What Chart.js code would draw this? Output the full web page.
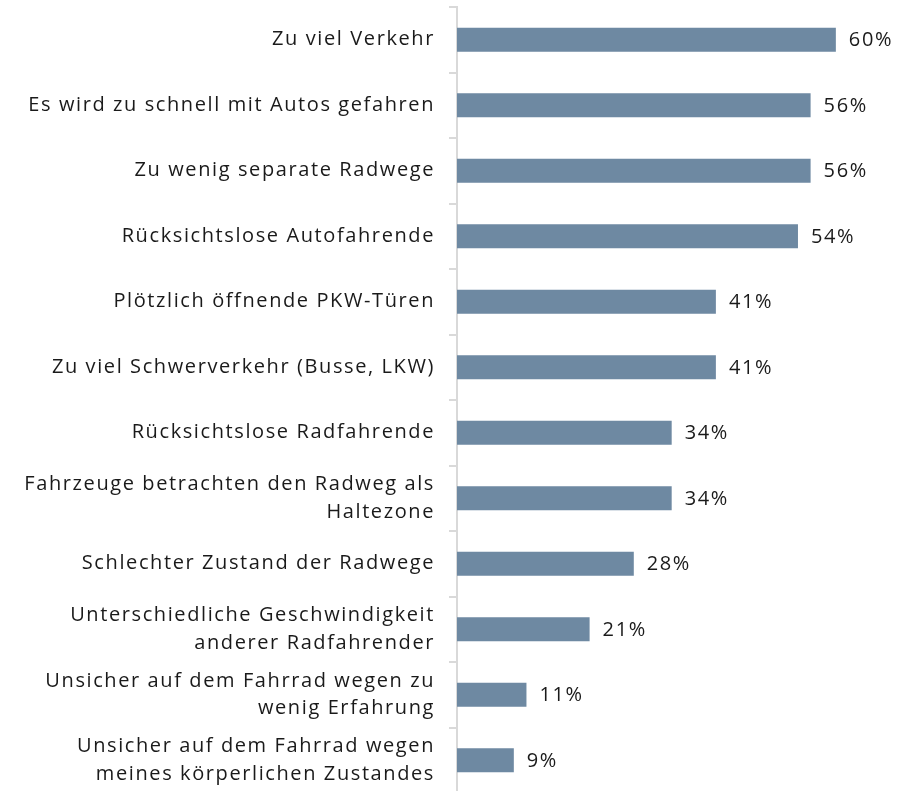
<!DOCTYPE html>
<html>
<head>
<meta charset="utf-8">
<script src="https://cdn.jsdelivr.net/npm/chart.js@4.4.1/dist/chart.umd.min.js"></script>
<style>
  html, body { margin: 0; padding: 0; background: #fff; overflow: hidden; }
  #wrap { position: relative; width: 908px; height: 795px; }
</style>
</head>
<body>
<div id="wrap"><canvas id="chart"></canvas></div>
<script>
const categories = [
    'Zu viel Verkehr',
    'Es wird zu schnell mit Autos gefahren',
    'Zu wenig separate Radwege',
    'Rücksichtslose Autofahrende',
    'Plötzlich öffnende PKW-Türen',
    'Zu viel Schwerverkehr (Busse, LKW)',
    'Rücksichtslose Radfahrende',
    ['Fahrzeuge betrachten den Radweg als', 'Haltezone'],
    'Schlechter Zustand der Radwege',
    ['Unterschiedliche Geschwindigkeit', 'anderer Radfahrender'],
    ['Unsicher auf dem Fahrrad wegen zu', 'wenig Erfahrung'],
    ['Unsicher auf dem Fahrrad wegen', 'meines körperlichen Zustandes']
];
const shares = [60, 56, 56, 54, 41, 41, 34, 34, 28, 21, 11, 9];

const FONT = "'Open Sans', sans-serif";
const SPACING = '1.6px';

// letter spacing + value labels at bar ends
const textPlugin = {
    id: 'textPlugin',
    beforeDraw(chart) {
        chart.ctx.letterSpacing = SPACING;
    },
    afterDatasetsDraw(chart) {
        const ctx = chart.ctx;
        const meta = chart.getDatasetMeta(0);
        ctx.save();
        ctx.letterSpacing = SPACING;
        ctx.font = '20px ' + FONT;
        ctx.fillStyle = '#1a1a1a';
        ctx.textAlign = 'left';
        ctx.textBaseline = 'middle';
        meta.data.forEach((bar, i) => {
            ctx.fillText(shares[i] + '%', bar.x + 13, bar.y + 1);
        });
        ctx.restore();
    }
};

const myChart = new Chart(document.getElementById('chart'), {
    type: 'bar',
    data: {
        labels: categories,
        datasets: [{
            data: shares,
            backgroundColor: '#6e89a2',
            barPercentage: 0.37,
            categoryPercentage: 1
        }]
    },
    options: {
        indexAxis: 'y',
        responsive: true,
        maintainAspectRatio: false,
        animation: false,
        layout: { padding: { top: 7, right: 9, bottom: 2, left: 0 } },
        scales: {
            x: {
                display: false,
                min: 0,
                max: 70
            },
            y: {
                afterFit(axis) {
                    axis.width = 457;
                    axis.paddingTop = 0;
                    axis.paddingBottom = 0;
                },
                border: { color: '#d9d9d9', width: 2 },
                grid: {
                    offset: true,
                    drawOnChartArea: false,
                    tickLength: 8,
                    color: '#d9d9d9',
                    lineWidth: 2
                },
                ticks: {
                    padding: 14,
                    color: '#1a1a1a',
                    font: { family: FONT, size: 20, lineHeight: 1.38 }
                }
            }
        },
        plugins: {
            legend: { display: false },
            tooltip: { enabled: false }
        }
    },
    plugins: [textPlugin]
});
</script>
</body>
</html>
